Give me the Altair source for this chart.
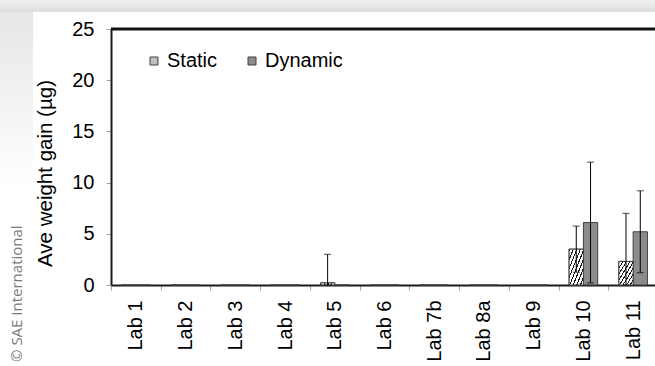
import altair as alt
import pandas as pd

# Average weight gain per lab, static vs dynamic test (µg), with error half-widths
labs = ["Lab 1", "Lab 2", "Lab 3", "Lab 4", "Lab 5", "Lab 6",
        "Lab 7b", "Lab 8a", "Lab 9", "Lab 10", "Lab 11"]
series_names = ["Static", "Dynamic"]
static_gain = [0, 0, 0, 0, 0.2, 0, 0, 0, 0, 3.5, 2.3]
static_err = [0, 0, 0, 0, 2.8, 0, 0, 0, 0, 2.25, 4.7]
dynamic_gain = [0, 0, 0, 0, 0, 0, 0, 0, 0, 6.1, 5.2]
dynamic_err = [0, 0, 0, 0, 0, 0, 0, 0, 0, 5.9, 4.0]
y_ticks = [0, 5, 10, 15, 20, 25]

rows = []
for i, lab in enumerate(labs):
    rows.append({"lab": lab, "series": "Static", "gain": static_gain[i], "err": static_err[i]})
    rows.append({"lab": lab, "series": "Dynamic", "gain": dynamic_gain[i], "err": dynamic_err[i]})
df = pd.DataFrame(rows)
df["lo"] = (df["gain"] - df["err"]).clip(lower=0)
df["hi"] = df["gain"] + df["err"]

W, H = 544, 256
FONT = "Liberation Sans"

# diagonal "////" hatch for the static bars, built from hard-edged gradient stops
n_stripes = 8
stops = []
for k in range(n_stripes):
    a = k / n_stripes
    b = (k + 0.32) / n_stripes
    stops += [alt.GradientStop(offset=a, color="#1a1a1a"),
              alt.GradientStop(offset=b, color="#1a1a1a"),
              alt.GradientStop(offset=b, color="#ffffff"),
              alt.GradientStop(offset=(k + 1) / n_stripes, color="#ffffff")]
hatch_fill = alt.LinearGradient(gradient="linear", x1=0, y1=0, x2=1, y2=1, stops=stops)

x_enc = alt.X(
    "lab:N", sort=labs,
    scale=alt.Scale(domain=labs, range=[0, 547], paddingInner=0, paddingOuter=0),
    axis=alt.Axis(title=None, labelAngle=-90, tickBand="extent", tickSize=5,
                  tickColor="#a0a0a0", domainColor="#1a1a1a", domainWidth=2,
                  labelFontSize=20, labelFont=FONT, labelColor="black",
                  labelPadding=10, grid=False),
)
xoff_enc = alt.XOffset(
    "series:N", sort=series_names,
    scale=alt.Scale(domain=series_names, paddingInner=0, paddingOuter=0.74),
)
y_scale = alt.Scale(domain=[0, 25], nice=False)
y_enc = alt.Y(
    "gain:Q", scale=y_scale,
    axis=alt.Axis(title="Ave weight gain (µg)", values=y_ticks, tickSize=5,
                  tickColor="#a0a0a0", domainColor="#1a1a1a", domainWidth=2,
                  labelFontSize=20, labelFont=FONT, labelColor="black",
                  labelPadding=12, grid=False, titleFont=FONT, titleFontSize=20.5,
                  titleFontWeight="normal", titleColor="black", titlePadding=16,
                  titleY=144),
)

base = alt.Chart(df).encode(x=x_enc, xOffset=xoff_enc)

bars = base.mark_bar(stroke="#404040", strokeWidth=1).encode(
    y=y_enc,
    fill=alt.Fill(
        "series:N", sort=series_names,
        scale=alt.Scale(domain=series_names, range=["#bdbdbd", "#8c8c8c"]),
        legend=alt.Legend(title=None, orient="none", legendX=33, legendY=22,
                          direction="horizontal", symbolType="square",
                          symbolSize=64, symbolStrokeColor="#404040",
                          symbolStrokeWidth=1, labelFont=FONT, labelFontSize=20,
                          labelColor="black", labelOffset=3, columnPadding=24),
    ),
)

hatched = base.transform_filter(
    "datum.series == 'Static' && datum.gain > 0"
).mark_bar(fill=hatch_fill, stroke="#404040", strokeWidth=1).encode(
    y=alt.Y("gain:Q", scale=y_scale)
)

err_data = base.transform_filter("datum.err > 0")
err_rules = err_data.mark_rule(color="black", strokeWidth=1).encode(
    y=alt.Y("lo:Q", scale=y_scale), y2="hi:Q"
)
cap_hi = err_data.mark_tick(color="black", thickness=1, size=7).encode(
    y=alt.Y("hi:Q", scale=y_scale)
)
cap_lo = err_data.mark_tick(color="black", thickness=1, size=7).encode(
    y=alt.Y("lo:Q", scale=y_scale)
)

one = pd.DataFrame({"k": [0]})

# frame line along the top of the plot
top_line = alt.Chart(one).mark_rule(color="#111111", strokeWidth=3).encode(
    x=alt.value(0), x2=alt.value(W + 10), y=alt.value(0)
)

# soft page shadow above and left of the figure
shade_top = alt.Chart(one).mark_rect(
    fill=alt.LinearGradient(gradient="linear", x1=0, y1=0, x2=0, y2=1,
                            stops=[alt.GradientStop(offset=0, color="#f0f0f0"),
                                   alt.GradientStop(offset=1, color="#dcdcdc")])
).encode(x=alt.value(-111), x2=alt.value(W + 10), y=alt.value(-29), y2=alt.value(-17))
shade_left = alt.Chart(one).mark_rect(
    fill=alt.LinearGradient(gradient="linear", x1=0, y1=0, x2=0, y2=1,
                            stops=[alt.GradientStop(offset=0, color="#e6e6e6"),
                                   alt.GradientStop(offset=1, color="#ffffff")])
).encode(x=alt.value(-111), x2=alt.value(-78), y=alt.value(-17), y2=alt.value(160))

credit = alt.Chart(one).mark_text(
    angle=270, align="left", baseline="middle", fontSize=15,
    font="Open Sans", color="#7a7a7a"
).encode(x=alt.value(-94), y=alt.value(333), text=alt.value("© SAE International"))

chart = alt.layer(
    shade_top, shade_left, credit, bars, hatched, err_rules, cap_hi, cap_lo, top_line
).resolve_scale(y="shared").properties(
    width=W, height=H,
    padding={"left": 111, "top": 29, "right": 0, "bottom": 81},
    autosize=alt.AutoSizeParams(type="none"),
    background="white",
).configure_view(stroke=None)

chart.save("out.html", embed_options={"renderer": "svg", "actions": False})
